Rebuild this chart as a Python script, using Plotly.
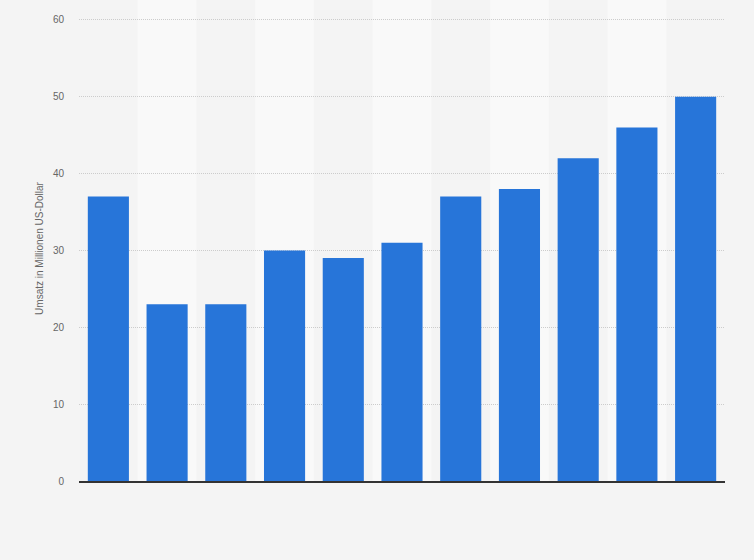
import plotly.graph_objects as go

categories = ["1", "2", "3", "4", "5", "6", "7", "8", "9", "10", "11"]
values = [37, 23, 23, 30, 29, 31, 37, 38, 42, 46, 50]
y_ticks = [0, 10, 20, 30, 40, 50, 60]
y_title = "Umsatz in Millionen US-Dollar"

fig = go.Figure()
fig.add_trace(go.Bar(
    x=categories, y=values,
    marker=dict(color="#2775d9", line=dict(width=0)),
    hoverinfo="x+y",
))

shapes = []
for i in range(1, len(categories), 2):
    shapes.append(dict(
        type="rect", xref="x", yref="paper",
        x0=i - 0.5, x1=i + 0.5, y0=0, y1=1.04,
        fillcolor="#f9f9f9", line=dict(width=0), layer="below",
    ))

fig.update_layout(
    width=754, height=560,
    margin=dict(l=79, r=29, t=16, b=79),
    paper_bgcolor="#f4f4f4", plot_bgcolor="rgba(0,0,0,0)",
    bargap=0.3,
    showlegend=False,
    shapes=shapes,
    font=dict(family="Arial, Liberation Sans, sans-serif", color="#666666", size=10),
    xaxis=dict(
        showticklabels=False, showgrid=False, zeroline=False,
        showline=True, linecolor="#333333", linewidth=1.5,
        range=[-0.5, len(categories) - 0.5], fixedrange=True,
    ),
    yaxis=dict(
        range=[0, 60.5], tickvals=y_ticks, showgrid=True,
        gridcolor="#cccccc", griddash="1px,1px", gridwidth=1,
        zeroline=False, showline=False,
        ticks="", ticklabelstandoff=14,
        tickfont=dict(size=10, color="#666666"),
        title=dict(text=y_title, font=dict(size=10, color="#666666"), standoff=7),
        fixedrange=True,
    ),
)

fig.write_html(
    "out.html",
    config={"displayModeBar": False},
    post_script="document.body.style.margin='0';document.body.style.padding='0';",
)
